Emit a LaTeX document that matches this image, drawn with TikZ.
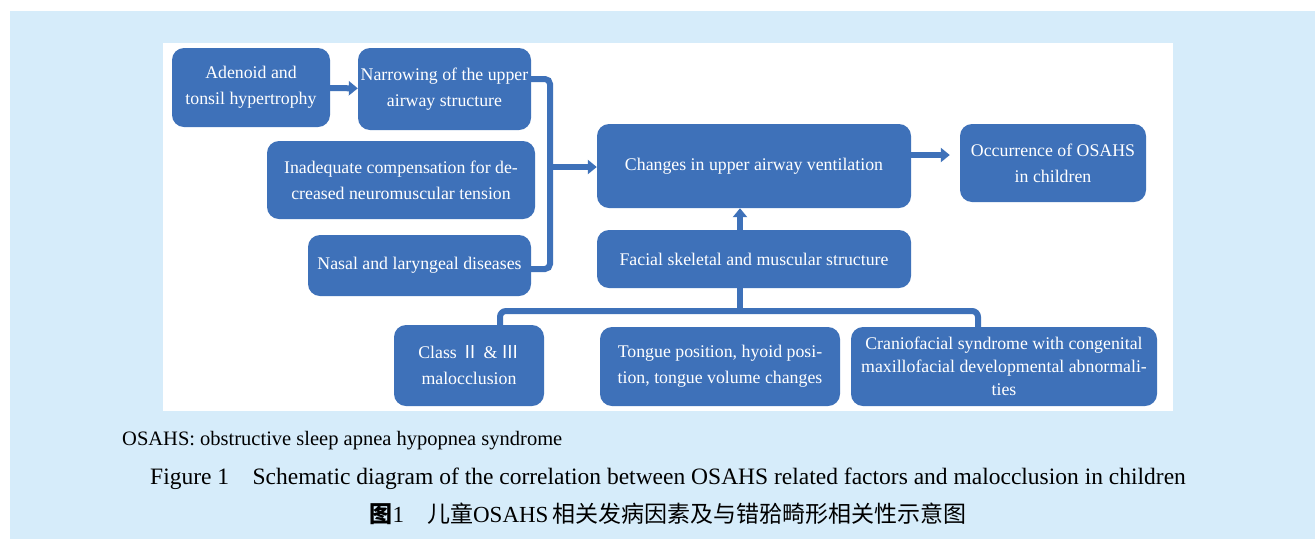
\documentclass[tikz,border=0pt]{standalone}
\usepackage{fontspec}
\setmainfont{Liberation Serif}
\newfontfamily\cjk{Noto Sans CJK SC}
\usetikzlibrary{arrows.meta}
\definecolor{boxblue}{RGB}{62,113,185}
\definecolor{bgblue}{RGB}{214,236,250}

\begin{document}
\begin{tikzpicture}[x=1pt,y=-1pt,
  >={Triangle[length=9pt,width=14pt]},
  box/.style={fill=boxblue,rounded corners=12pt,align=center,text=white,inner sep=0pt,font=\fontsize{17.8}{26}\selectfont},
  link/.style={draw=boxblue,line width=6pt},
  note/.style={inner sep=0pt,anchor=base}]
\useasboundingbox (0,0) rectangle (1315,539);
\fill[bgblue] (10,11) rectangle (1315,539);
\fill[white] (163,43) rectangle (1173,411);
% left column of causes
\node[box,minimum width=158pt,minimum height=79pt] (aden) at (251,87.5) {Adenoid and\\tonsil hypertrophy};
\node[box,minimum width=173pt,minimum height=82pt] (narrow) at (444.5,89) {Narrowing of the upper\\airway structure};
\node[box,minimum width=268pt,minimum height=78pt] (inadeq) at (401,180) {Inadequate compensation for de-\\creased neuromuscular tension};
\node[box,minimum width=223pt,minimum height=61pt] (nasal) at (419.5,265.5) {Nasal and laryngeal diseases};
% centre and outcome
\node[box,minimum width=314pt,minimum height=84pt] (change) at (754,166) {Changes in upper airway ventilation};
\node[box,minimum width=186pt,minimum height=78pt] (occur) at (1053,163) {Occurrence of OSAHS\\in children};
\node[box,minimum width=314pt,minimum height=58pt] (facial) at (754,259) {Facial skeletal and muscular structure};
% bottom row
\node[box,minimum width=150pt,minimum height=81pt] (class) at (469,365.5) {Class {\cjk Ⅱ} \& {\cjk Ⅲ}\\malocclusion};
\node[box,minimum width=240pt,minimum height=79pt] (tongue) at (720,366.5) {Tongue position, hyoid posi-\\tion, tongue volume changes};
\node[box,minimum width=306pt,minimum height=79pt,font=\fontsize{17.8}{23}\selectfont] (cranio) at (1004,366.5) {Craniofacial syndrome with congenital\\maxillofacial developmental abnormali-\\ties};
% connectors
\coordinate (join) at (550,167);
\coordinate (bus) at (740,311);
\coordinate (chgout) at ([yshift=11pt]change.east);
\draw[link,->] (aden) -- (narrow);
\draw[link,rounded corners=5pt] ([yshift=10pt]narrow.east) -| (join) |- ([yshift=-3.5pt]nasal.east);
\draw[link,->] (join) -- (change.west |- join);
\draw[link,->,shorten >=10pt] (chgout) -- (occur.west |- chgout);
\draw[link,->] ([xshift=-14pt]facial.north) -- ([xshift=-14pt]change.south);
\draw[link] ([xshift=-14pt]facial.south) -- (bus);
\draw[link,rounded corners=6pt] ([xshift=31pt]class.north) |- (bus) -| ([xshift=-26pt]cranio.north);
% captions
\node[note,anchor=base west,font=\fontsize{20.5}{24}\selectfont] (abbr) at (122,445) {OSAHS: obstructive sleep apnea hypopnea syndrome};
\node[note,font=\fontsize{23.5}{26}\selectfont] (figen) at (668,484) {Figure 1\hspace{1em}Schematic diagram of the correlation between OSAHS related factors and malocclusion in children};
\node[note,font=\fontsize{23}{26}\selectfont] (figcn) at (668,522) {{\cjk\bfseries 图}1\hspace{1em}{\cjk 儿童}OSAHS\,{\cjk 相关发病因素及与错}{\cjk 𬌗}{\cjk 畸形相关性示意图}};
\end{tikzpicture}
\end{document}
